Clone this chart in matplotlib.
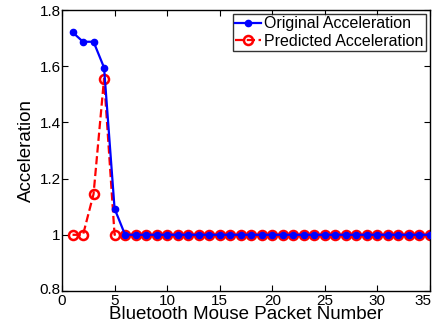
import matplotlib
matplotlib.use("Agg")
import matplotlib.pyplot as plt
import matplotlib.transforms as mtransforms
import numpy as np

plt.rcParams['font.family'] = ['Liberation Sans', 'DejaVu Sans']

packets = list(range(1, 36))
original = [1.721, 1.687, 1.687, 1.595, 1.093] + [1.0] * 30
predicted = [1.0, 1.0, 1.145, 1.556, 1.0] + [1.0] * 30
xticks = [0, 5, 10, 15, 20, 25, 30, 35]
yticks = [0.8, 1.0, 1.2, 1.4, 1.6, 1.8]
ytick_labels = ['0.8', '1', '1.2', '1.4', '1.6', '1.8']

fig = plt.figure(figsize=(4.37, 3.34), dpi=100)
ax = fig.add_axes([62/437, 1 - 291/334, (430 - 62)/437, (291 - 10)/334])

ax.plot(packets, original, '-', color='#0000ff', lw=1.6, marker='o', ms=4.5,
        mfc='#0000ff', mec='#0000ff', label='Original Acceleration', zorder=3)
ax.plot(packets, predicted, '--', color='#ff0000', lw=1.6, marker='o', ms=6.5,
        mfc='none', mec='#ff0000', mew=1.8, label='Predicted Acceleration', zorder=2)

ax.set_xlim(0, 35)
ax.set_ylim(0.8, 1.8)
ax.set_xticks(xticks)
ax.set_yticks(yticks)
ax.set_yticklabels(ytick_labels)
ax.tick_params(direction='in', top=True, right=True, labelsize=11, length=4)
ax.tick_params(axis='y', pad=1)
ax.tick_params(axis='x', pad=2)
for s in ax.spines.values():
    s.set_linewidth(1.0)

# last x tick label sits slightly left of the axis edge, as in the reference
last = ax.get_xticklabels()[-1]
last.set_transform(last.get_transform() + mtransforms.ScaledTranslation(-7/100, 0, fig.dpi_scale_trans))
# lowest y label nudged up so it does not collide with the "0" x label
first = ax.get_yticklabels()[0]
first.set_transform(first.get_transform() + mtransforms.ScaledTranslation(0, 2.5/100, fig.dpi_scale_trans))

ax.set_xlabel('Bluetooth Mouse Packet Number', fontsize=13.5, labelpad=-1)
ax.set_ylabel('Acceleration', fontsize=13.5, labelpad=3)

leg = ax.legend(loc='upper right', fontsize=11.5, frameon=True, fancybox=False,
                borderaxespad=0.25, handlelength=1.6, handletextpad=0.2,
                borderpad=0.15, labelspacing=0.15)
leg.get_frame().set_edgecolor('black')
leg.get_frame().set_linewidth(1.0)

fig.savefig('out.png', dpi=100)
